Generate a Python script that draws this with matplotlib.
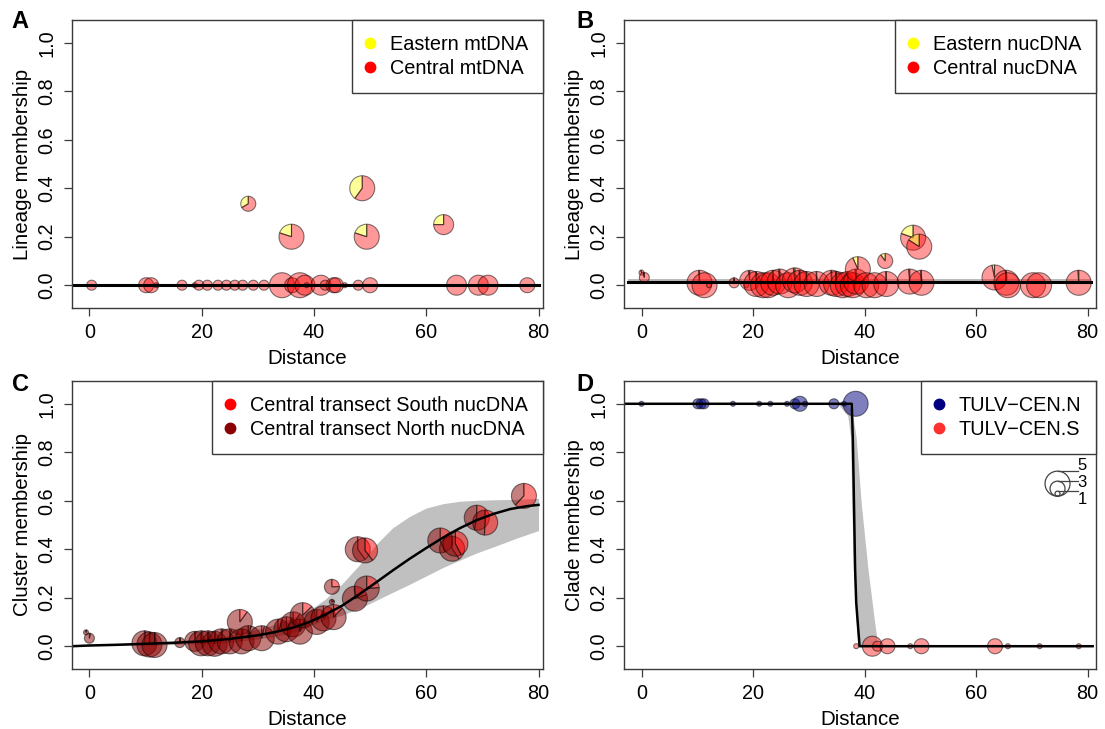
import numpy as np
import matplotlib
matplotlib.use("Agg")
import matplotlib.pyplot as plt
from matplotlib.patches import Wedge, Circle
from matplotlib.lines import Line2D
from matplotlib.transforms import ScaledTranslation

plt.rcParams['font.family'] = ['Liberation Sans', 'DejaVu Sans']

# ---------------- data ----------------
# Panel A (mtDNA): distance, fraction Eastern, sample size
A_x = [0.4, 10.1, 11.0, 11.9, 16.5, 18.75, 19.5, 21.0, 22.9, 24.4, 25.9, 27.3, 29.2, 31.1,
       34.3, 36.1, 37.5, 38.4, 38.7, 41.25, 42.0, 43.5, 43.9, 45.5, 47.9, 50.0, 65.4, 69.3,
       71.0, 78.0, 28.3, 36.0, 48.6, 49.4, 63.1]
A_y = [0.0] * 30 + [0.336, 0.20, 0.40, 0.20, 0.25]
A_n = [2, 3, 3, 1, 2, 1, 2, 2, 2, 2, 2, 2, 2, 2,
       5, 3, 5, 4, 1, 4, 2, 3, 3, 1, 2, 3, 4, 4,
       4, 3, 3, 5, 5, 5, 4]

# Panel B (nucDNA)
B_x = [0.0, 0.5, 10.4, 11.3, 12.1, 16.6, 18.8, 19.4, 20.6, 21.8, 22.7, 23.6, 24.8, 26.3,
       27.5, 28.4, 29.6, 31.4, 34.1, 34.9, 36.1, 37.0, 37.9, 38.5, 38.8, 40.3, 41.8, 43.9,
       43.7, 48.1, 48.7, 49.8, 50.2, 63.3, 65.4, 65.7, 70.2, 71.3, 78.4]
B_y = [0.052, 0.032, 0.01, 0.0, 0.0, 0.01, 0.0, 0.02, 0.005, 0.0, 0.0, 0.01, 0.015, 0.0,
       0.02, 0.01, 0.005, 0.005, 0.01, 0.005, 0.0, 0.005, 0.0, 0.015, 0.066, 0.0, 0.0, 0.005,
       0.10, 0.015, 0.196, 0.159, 0.01, 0.032, 0.01, 0.0, 0.0, 0.0, 0.01]
B_n = [1, 2, 5, 5, 1, 2, 1, 4, 5, 5, 5, 5, 5, 5,
       5, 5, 5, 5, 5, 5, 5, 5, 5, 5, 5, 5, 5, 5,
       3, 5, 5, 5, 5, 5, 5, 5, 5, 5, 5]

# Panel C (cluster membership, South fraction)
C_x = [-0.6, 0.0, 9.8, 10.7, 11.6, 16.1, 18.75, 19.9, 21.1, 22.3, 23.5, 25.0, 26.8, 27.1,
       28.3, 30.7, 33.6, 35.1, 36.3, 37.5, 38.0, 40.5, 41.7, 43.2, 43.2, 43.5, 47.3, 47.8,
       49.1, 49.4, 62.5, 64.6, 65.2, 69.0, 70.5, 77.4]
C_y = [0.057, 0.033, 0.012, 0.007, 0.005, 0.015, 0.02, 0.012, 0.012, 0.01, 0.02, 0.02, 0.10, 0.02,
       0.033, 0.033, 0.06, 0.07, 0.09, 0.06, 0.128, 0.10, 0.115, 0.245, 0.183, 0.12, 0.196, 0.40,
       0.395, 0.238, 0.436, 0.402, 0.423, 0.53, 0.51, 0.62]
C_n = [1, 2, 5, 5, 5, 2, 4, 5, 5, 5, 5, 5, 5, 5,
       5, 5, 5, 5, 5, 5, 5, 5, 5, 3, 1, 5, 5, 5,
       5, 5, 5, 5, 5, 5, 5, 5]

# Panel D (clade membership, TULV-CEN.N fraction)
D_x = [0.0, 10.1, 10.7, 11.2, 16.4, 21.1, 23.1, 26.1, 27.5, 28.4, 29.3, 34.5, 36.3, 38.4,
       38.5, 41.4, 42.3, 44.1, 48.2, 50.2, 63.4, 65.7, 71.4, 78.4]
D_y = [1.0] * 14 + [0.0] * 10
D_n = [1, 2, 2, 2, 1, 1, 1, 1, 2, 3, 1, 2, 1, 5,
       1, 4, 2, 3, 1, 3, 3, 1, 1, 1]

# Fitted clines
A_line_x = [-3.0, 80.0]
A_line_y = [0.0, 0.0]
A_band_lo = [-0.007, -0.007]
A_band_hi = [0.007, 0.007]

B_line_x = [-2.4, 80.6]
B_line_y = [0.015, 0.015]
B_band_lo = [0.007, 0.007]
B_band_hi = [0.024, 0.024]

C_line_x = [-3, 0, 5, 10, 15, 20, 25, 30, 33, 36, 39, 42, 45, 48, 51, 54, 57, 60, 63, 66, 69, 72, 75, 78, 80]
C_line_y = [0.0, 0.003, 0.006, 0.010, 0.014, 0.020, 0.030, 0.045, 0.058, 0.075, 0.098, 0.13, 0.167,
            0.213, 0.262, 0.312, 0.36, 0.405, 0.448, 0.487, 0.52, 0.546, 0.566, 0.578, 0.583]
C_band_x = [-3, 10, 20, 25, 30, 33, 36, 39, 42, 45, 48, 51, 54, 57, 60, 63, 66, 69, 72, 76, 80]
C_band_hi = [0.002, 0.015, 0.03, 0.045, 0.07, 0.09, 0.115, 0.145, 0.194, 0.257, 0.333, 0.418, 0.488,
             0.535, 0.57, 0.588, 0.598, 0.602, 0.604, 0.606, 0.61]
C_band_lo = [0.0, 0.004, 0.01, 0.016, 0.03, 0.04, 0.055, 0.08, 0.11, 0.128, 0.155, 0.188, 0.222,
             0.255, 0.29, 0.325, 0.355, 0.385, 0.41, 0.445, 0.477]

D_line_x = [-3.0, 37.7, 37.9, 38.1, 38.3, 38.5, 39.1, 80.9]
D_line_y = [1.0, 1.0, 0.85, 0.59, 0.32, 0.18, 0.0, 0.0]
D_band_y = [1.0, 0.95, 0.86, 0.59, 0.32, 0.1, 0.0]
D_band_left = [35.2, 37.0, 37.5, 37.7, 38.0, 38.5, 38.9]
D_band_right = [37.0, 37.9, 38.5, 39.4, 40.6, 41.8, 42.4]

size_legend = [5, 3, 1]

# ---------------- figure ----------------
W, H = 1105, 729
fig = plt.figure(figsize=(W / 100, H / 100), dpi=100)

def add_ax(l, r, t, b):
    return fig.add_axes([l / W, 1 - b / H, (r - l) / W, (b - t) / H])

axA = add_ax(72, 543, 20, 308)
axB = add_ax(624, 1096, 20, 308)
axC = add_ax(72, 543, 381, 669)
axD = add_ax(624, 1096, 381, 669)

FS = 14.3
SPINE = '#3a3a3a'
PX_PER_N = 2.5
EDGE = (0, 0, 0, 0.5)

def style(ax, ylabel, xlim):
    ax.set_xlim(*xlim)
    ax.set_ylim(-0.094, 1.094)
    ax.set_xticks([0, 20, 40, 60, 80])
    ax.set_yticks([0.0, 0.2, 0.4, 0.6, 0.8, 1.0])
    ax.set_yticklabels(['0.0', '0.2', '0.4', '0.6', '0.8', '1.0'], rotation=90, va='center')
    ax.tick_params(direction='out', length=6, width=0.9, color=SPINE, labelsize=FS, pad=5)
    for s in ax.spines.values():
        s.set_color(SPINE)
        s.set_linewidth(1.0)
    ax.set_xlabel('Distance', fontsize=FS + 0.5, labelpad=5)
    ax.set_ylabel(ylabel, fontsize=FS + 0.5, labelpad=4)

def pie(ax, x, y, n, fracs, colors, alpha):
    r = n * PX_PER_N / 100.0
    tr = fig.dpi_scale_trans + ScaledTranslation(x, y, ax.transData)
    start = 90.0
    for f, c in zip(fracs, colors):
        if f <= 0:
            continue
        end = start + 360.0 * f
        w = Wedge((0, 0), r, start, end, transform=tr,
                  facecolor=matplotlib.colors.to_rgba(c, alpha),
                  edgecolor=EDGE, linewidth=0.8)
        w.set_clip_path(ax.patch)
        ax.add_artist(w)
        start = end

def legend(ax, labels, colors):
    handles = [Line2D([], [], marker='o', ls='', color=c, markersize=7.5) for c in colors]
    lg = ax.legend(handles, labels, loc='upper right', fontsize=FS, frameon=True,
                   fancybox=False, borderaxespad=0, borderpad=0.75, handletextpad=0.85,
                   labelspacing=0.25, handlelength=0.3, framealpha=1)
    lg.get_frame().set_edgecolor(SPINE)
    lg.get_frame().set_linewidth(1.0)

# Panel A
style(axA, 'Lineage membership', (-3.1, 80.8))
axA.fill_between(A_line_x, A_band_lo, A_band_hi, color='#bbbbbb', lw=0, zorder=1)
axA.plot(A_line_x, A_line_y, color='black', lw=2.2, zorder=2)
for x, y, n in zip(A_x, A_y, A_n):
    pie(axA, x, y, n, [y, 1 - y], ['yellow', 'red'], 0.4)
legend(axA, ['Eastern mtDNA', 'Central mtDNA'], ['yellow', 'red'])

# Panel B
style(axB, 'Lineage membership', (-3.14, 81.5))
axB.fill_between(B_line_x, B_band_lo, B_band_hi, color='#bbbbbb', lw=0, zorder=1)
axB.plot(B_line_x, B_line_y, color='black', lw=2.2, zorder=2)
for x, y, n in zip(B_x, B_y, B_n):
    pie(axB, x, y, n, [y, 1 - y], ['yellow', 'red'], 0.4)
legend(axB, ['Eastern nucDNA', 'Central nucDNA'], ['yellow', 'red'])

# Panel C
style(axC, 'Cluster membership', (-3.1, 80.8))
axC.fill_between(C_band_x, C_band_lo, C_band_hi, color='#c0c0c0', lw=0, zorder=1)
axC.plot(C_line_x, C_line_y, color='black', lw=1.8, zorder=2)
for x, y, n in zip(C_x, C_y, C_n):
    pie(axC, x, y, n, [1 - y, y], ['darkred', 'red'], 0.5)
legend(axC, ['Central transect South nucDNA', 'Central transect North nucDNA'], ['red', 'darkred'])

# Panel D
style(axD, 'Clade membership', (-3.14, 81.5))
axD.fill_betweenx(D_band_y, D_band_left, D_band_right, color='#c0c0c0', lw=0, zorder=1)
axD.plot(D_line_x, D_line_y, color='black', lw=1.8, zorder=2)
for x, y, n in zip(D_x, D_y, D_n):
    pie(axD, x, y, n, [y, 1 - y], ['navy', '#ff3030'], 0.5)
legend(axD, ['TULV\u2212CEN.N', 'TULV\u2212CEN.S'], ['navy', '#ff3030'])

# size legend (panel D)
base = fig.dpi_scale_trans + ScaledTranslation(74.6, 0.619, axD.transData)
label_dy = {5: 31, 3: 14, 1: -3}
for n in size_legend:
    r = n * PX_PER_N
    axD.add_artist(Circle((0, r / 100), r / 100, transform=base, fill=False,
                          edgecolor='#444444', lw=0.9))
    axD.add_artist(Line2D([0, 20 / 100], [2 * r / 100, 2 * r / 100], transform=base,
                          color='#444444', lw=0.9))
    axD.text(20 / 100, label_dy[n] / 100, str(n),
             transform=base, fontsize=12, ha='left', va='center')

# panel letters
for letter, (px, py) in zip('ABCD', [(20, 22), (585, 22), (20, 384), (585, 384)]):
    fig.text(px / W, 1 - py / H, letter, fontsize=17, fontweight='bold',
             ha='center', va='center')

fig.savefig('out.png', dpi=100)
